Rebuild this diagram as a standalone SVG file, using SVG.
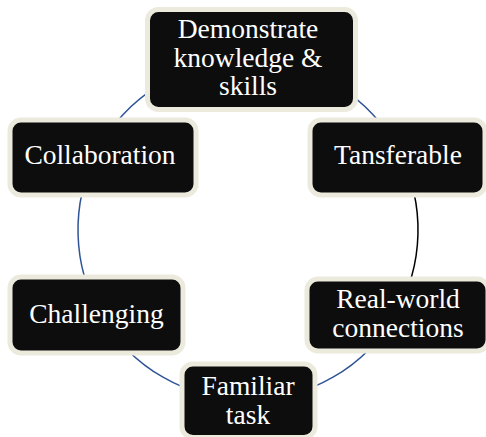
<svg xmlns="http://www.w3.org/2000/svg" width="486" height="437" viewBox="0 0 486 437">
<style>
.box{fill:#0d0d0d;stroke:#ece9dd;stroke-width:5}
.lbl{font-family:"Liberation Serif","Times New Roman",serif;font-size:27.5px;fill:#ffffff;text-anchor:middle}
.arc{fill:none;stroke:#2f5597;stroke-width:1.5}
.arc.dark{stroke:#000000}
</style>
<rect width="486" height="437" fill="#ffffff"/>
<g id="connectors">
<path class="arc" d="M248,60 A170,170 0 0 1 399.5,152.8"/>
<path class="arc dark" d="M399.5,152.8 A170,170 0 0 1 395.2,315"/>
<path class="arc" d="M395.2,315 A170,170 0 0 1 248,400"/>
<path class="arc" d="M248,400 A170,170 0 0 1 100.8,315"/>
<path class="arc" d="M100.8,315 A170,170 0 0 1 96.5,152.8"/>
<path class="arc" d="M96.5,152.8 A170,170 0 0 1 248,60"/>
</g>
<g id="node-demonstrate">
<rect class="box" x="147.5" y="9.5" width="208" height="100" rx="11"/>
<text class="lbl" x="248" y="38">Demonstrate</text>
<text class="lbl" x="248" y="67">knowledge &amp;</text>
<text class="lbl" x="248" y="95">skills</text>
</g>
<g id="node-tansferable">
<rect class="box" x="310" y="120" width="175" height="75" rx="11"/>
<text class="lbl" x="398" y="164">Tansferable</text>
</g>
<g id="node-realworld">
<rect class="box" x="307" y="279" width="181" height="72" rx="11"/>
<text class="lbl" x="398" y="308">Real-world</text>
<text class="lbl" x="398" y="337">connections</text>
</g>
<g id="node-familiar">
<rect class="box" x="182" y="364" width="133" height="73.5" rx="11"/>
<text class="lbl" x="248" y="395">Familiar</text>
<text class="lbl" x="248" y="424">task</text>
</g>
<g id="node-challenging">
<rect class="box" x="10" y="277" width="173" height="76" rx="11"/>
<text class="lbl" x="96.5" y="323">Challenging</text>
</g>
<g id="node-collaboration">
<rect class="box" x="10" y="120" width="186" height="75" rx="11"/>
<text class="lbl" x="100" y="164">Collaboration</text>
</g>
</svg>
